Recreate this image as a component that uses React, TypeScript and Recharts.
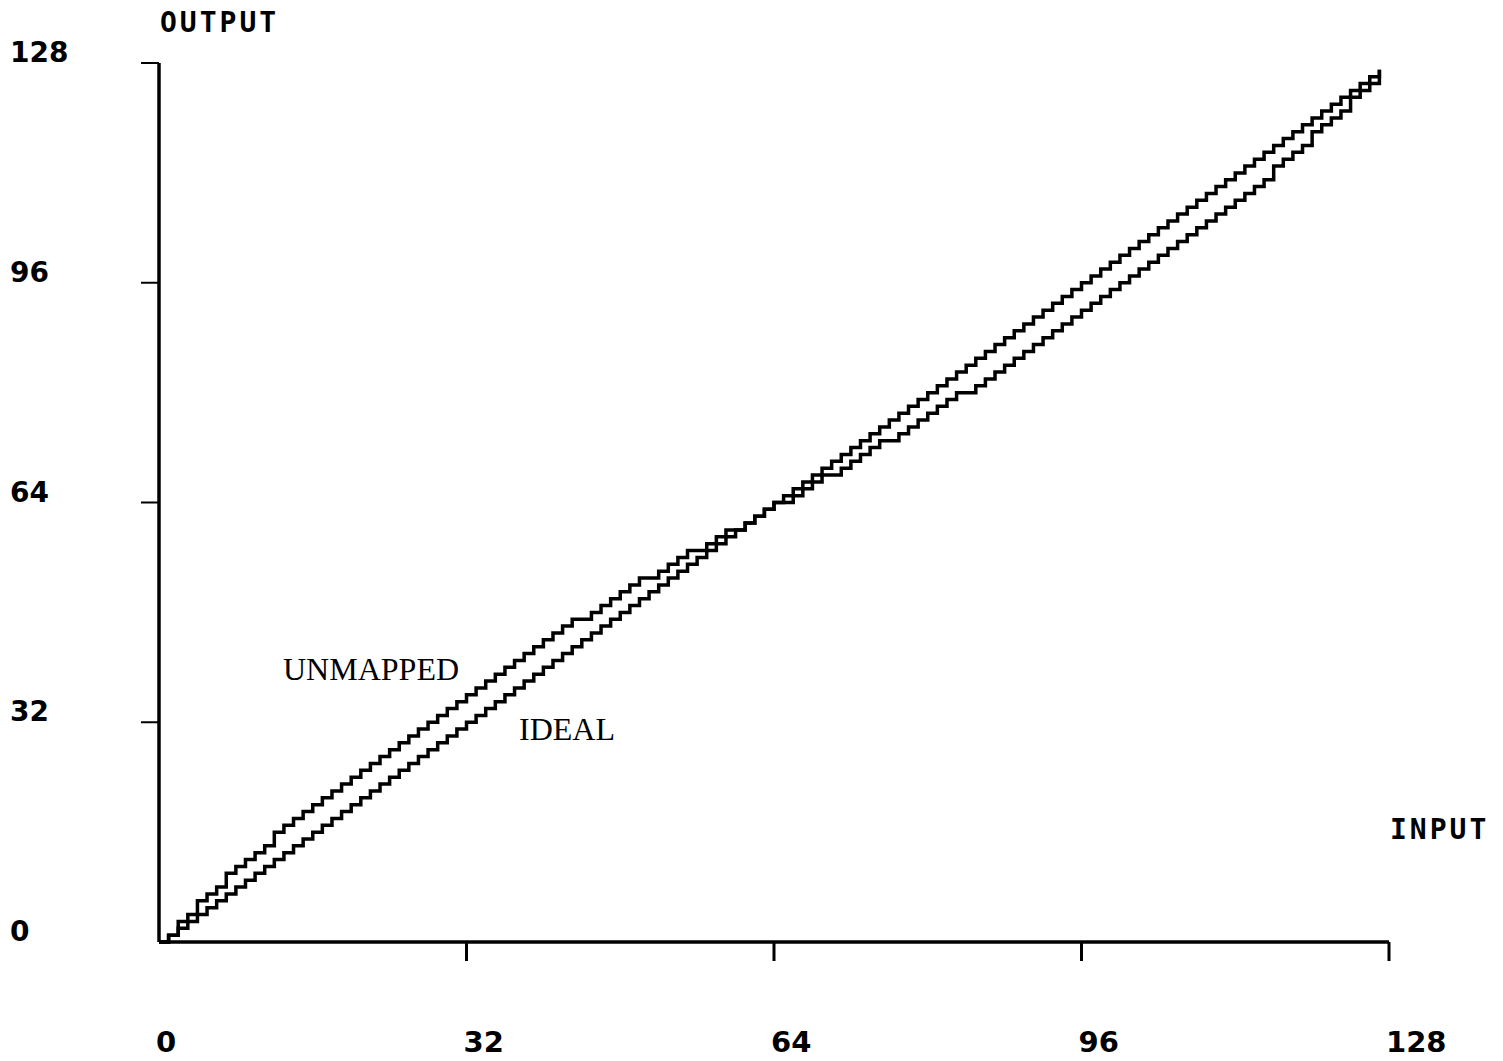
import React from "react";
import { LineChart, Line, XAxis, YAxis } from "recharts";

const inputCodes: number[] = [
  0, 1, 2, 3, 4, 5, 6, 7, 8, 9, 10, 11, 12, 13, 14, 15, 16, 17, 18, 19, 20, 21, 22, 23, 24, 25, 26, 27, 28, 29, 30, 31,
  32, 33, 34, 35, 36, 37, 38, 39, 40, 41, 42, 43, 44, 45, 46, 47, 48, 49, 50, 51, 52, 53, 54, 55, 56, 57, 58, 59, 60, 61, 62, 63,
  64, 65, 66, 67, 68, 69, 70, 71, 72, 73, 74, 75, 76, 77, 78, 79, 80, 81, 82, 83, 84, 85, 86, 87, 88, 89, 90, 91, 92, 93, 94, 95,
  96, 97, 98, 99, 100, 101, 102, 103, 104, 105, 106, 107, 108, 109, 110, 111, 112, 113, 114, 115, 116, 117, 118, 119, 120, 121, 122, 123, 124, 125, 126, 127,
];

const idealOutput: number[] = [
  0, 1, 2, 3, 4, 5, 6, 7, 8, 9, 10, 11, 12, 13, 14, 15, 16, 17, 18, 19, 20, 21, 22, 23, 24, 25, 26, 27, 28, 29, 30, 31,
  32, 33, 34, 35, 36, 37, 38, 39, 40, 41, 42, 43, 44, 45, 46, 47, 48, 49, 50, 51, 52, 53, 54, 55, 56, 57, 58, 59, 60, 61, 62, 63,
  64, 65, 66, 67, 68, 69, 70, 71, 72, 73, 74, 75, 76, 77, 78, 79, 80, 81, 82, 83, 84, 85, 86, 87, 88, 89, 90, 91, 92, 93, 94, 95,
  96, 97, 98, 99, 100, 101, 102, 103, 104, 105, 106, 107, 108, 109, 110, 111, 112, 113, 114, 115, 116, 117, 118, 119, 120, 121, 122, 123, 124, 125, 126, 127,
];

const unmappedOutput: number[] = [
  0, 1, 3, 4, 6, 7, 8, 10, 11, 12, 13, 14, 16, 17, 18, 19, 20, 21, 22, 23, 24, 25, 26, 27, 28, 29, 30, 31, 32, 33, 34, 35,
  36, 37, 38, 39, 40, 41, 42, 43, 44, 45, 46, 47, 47, 48, 49, 50, 51, 52, 53, 53, 54, 55, 56, 57, 57, 58, 59, 60, 60, 61, 62, 63,
  64, 64, 65, 66, 67, 68, 68, 69, 70, 71, 72, 73, 73, 74, 75, 76, 77, 78, 79, 80, 80, 81, 82, 83, 84, 85, 86, 87, 88, 89, 90, 91,
  92, 93, 94, 95, 96, 97, 98, 99, 100, 101, 102, 103, 104, 105, 106, 107, 108, 109, 110, 111, 113, 114, 115, 116, 118, 119, 120, 121, 123, 124, 125, 127,
];

const xTicks: number[] = [0, 32, 64, 96, 128];
const yTicks: number[] = [0, 32, 64, 96, 128];

const data = inputCodes.map((x, i) => ({
  input: x,
  ideal: idealOutput[i],
  unmapped: unmappedOutput[i],
}));

const MONO = "'DejaVu Sans Mono', monospace";
const DIGITS = "'DejaVu Sans', sans-serif";
const SERIF = "'Liberation Serif', 'Times New Roman', serif";
const X_TICK_SIZE = 19;
const Y_TICK_SIZE = 18;

const XTick = (props: any) => {
  const { x, y, payload } = props;
  const axisY = y - X_TICK_SIZE;
  return (
    <g>
      {payload.value !== 0 && (
        <line x1={x} x2={x} y1={axisY} y2={axisY + X_TICK_SIZE} stroke="#000" strokeWidth={3} />
      )}
      <text x={x - 3} y={1052} textAnchor="start" fontFamily={DIGITS} fontWeight="bold" fontSize={29} fill="#000">
        {payload.value}
      </text>
    </g>
  );
};

const YTick = (props: any) => {
  const { x, y, payload } = props;
  const axisX = x + Y_TICK_SIZE;
  return (
    <g>
      {payload.value !== 0 && (
        <line x1={axisX - Y_TICK_SIZE} x2={axisX} y1={y} y2={y} stroke="#000" strokeWidth={2} />
      )}
      <text x={10} y={y - 1} textAnchor="start" fontFamily={DIGITS} fontWeight="bold" fontSize={28} fill="#000">
        {payload.value}
      </text>
    </g>
  );
};

export default function App() {
  return (
    <div style={{ position: "absolute", left: 0, top: 0, width: 1503, height: 1061, background: "#fff" }}>
      <LineChart
        width={1503}
        height={1061}
        data={data}
        margin={{ top: 63, right: 114, left: 0, bottom: 0 }}
      >
        <XAxis
          dataKey="input"
          type="number"
          domain={[0, 128]}
          ticks={xTicks}
          height={119}
          axisLine={{ stroke: "#000", strokeWidth: 3.5 }}
          tickLine={false}
          tickSize={X_TICK_SIZE}
          tickMargin={0}
          tick={<XTick />}
          interval={0}
        />
        <YAxis
          type="number"
          domain={[0, 128]}
          ticks={yTicks}
          width={159}
          axisLine={{ stroke: "#000", strokeWidth: 3.5 }}
          tickLine={false}
          tickSize={Y_TICK_SIZE}
          tickMargin={0}
          tick={<YTick />}
          interval={0}
        />
        <Line
          type="stepAfter"
          dataKey="ideal"
          stroke="#000"
          strokeWidth={3.5}
          dot={false}
          isAnimationActive={false}
        />
        <Line
          type="stepAfter"
          dataKey="unmapped"
          stroke="#000"
          strokeWidth={3.5}
          dot={false}
          isAnimationActive={false}
        />
      </LineChart>
      <div style={{ position: "absolute", left: 160, top: 6, fontFamily: MONO, fontWeight: "bold", fontSize: 28, letterSpacing: 3, lineHeight: "34px", color: "#000" }}>
        OUTPUT
      </div>
      <div style={{ position: "absolute", left: 1390, top: 813, fontFamily: MONO, fontWeight: "bold", fontSize: 28, letterSpacing: 3, lineHeight: "34px", color: "#000" }}>
        INPUT
      </div>
      <div style={{ position: "absolute", left: 283, top: 651, fontFamily: SERIF, fontSize: 32, lineHeight: "36px", color: "#000" }}>
        UNMAPPED
      </div>
      <div style={{ position: "absolute", left: 519, top: 711, fontFamily: SERIF, fontSize: 32, lineHeight: "36px", color: "#000" }}>
        IDEAL
      </div>
    </div>
  );
}
